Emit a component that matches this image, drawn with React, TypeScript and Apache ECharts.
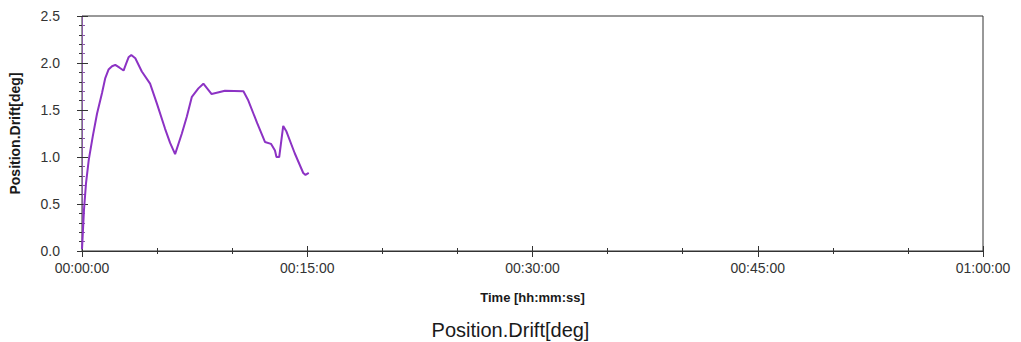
import React, { useEffect, useRef } from "react";
import * as echarts from "echarts";

// time in seconds from start
const timeSec: number[] = [
  0, 2, 8, 16, 27, 43, 60, 80, 93, 106, 120, 133, 150, 166, 176, 186, 197, 213, 239, 272,
  299, 332, 352, 372, 399, 419, 439, 465, 485, 518, 571, 645, 663, 700, 731, 755, 771, 777,
  788, 804, 817, 850, 884, 893, 906,
];
const driftDeg: number[] = [
  0.02, 0.12, 0.44, 0.72, 0.97, 1.22, 1.46, 1.68, 1.84, 1.93, 1.965, 1.98, 1.95, 1.92,
  1.99, 2.06, 2.085, 2.05, 1.91, 1.78, 1.57, 1.3, 1.15, 1.03, 1.25, 1.43, 1.64, 1.73, 1.78,
  1.67, 1.705, 1.7, 1.61, 1.36, 1.16, 1.14, 1.07, 1.0, 1.0, 1.33, 1.27, 1.04, 0.83, 0.81,
  0.83,
];
const xMax = 3600;
const xInterval = 900;
const yMax = 2.5;
const yInterval = 0.5;
const titleText = "Position.Drift[deg]";
const xName = "Time [hh:mm:ss]";
const yName = "Position.Drift[deg]";

const pad = (n: number) => String(n).padStart(2, "0");
const fmtTime = (s: number) =>
  `${pad(Math.floor(s / 3600))}:${pad(Math.floor((s % 3600) / 60))}:${pad(Math.floor(s % 60))}`;

export default function App() {
  const ref = useRef<HTMLDivElement>(null);
  useEffect(() => {
    if (!ref.current) return;
    const chart = echarts.init(ref.current, null, { renderer: "svg" });
    const purple = "#8c32c4";
    const axisPurple = "#8a5aa8";
    const baseX = {
      type: "value" as const,
      min: 0,
      max: xMax,
      interval: xInterval,
      splitLine: { show: false },
    };
    const baseY = {
      type: "value" as const,
      min: 0,
      max: yMax,
      interval: yInterval,
      splitLine: { show: false },
    };
    chart.setOption({
      animation: false,
      backgroundColor: "#fff",
      title: {
        text: titleText,
        left: "center",
        top: 315,
        textStyle: {
          fontFamily: "Liberation Sans, Arial, sans-serif",
          fontSize: 20,
          fontWeight: "normal",
          color: "#1a1a1a",
        },
      },
      grid: {
        left: 80,
        right: 38,
        top: 16,
        bottom: 91,
        show: true,
        borderColor: "#333",
        borderWidth: 1,
        backgroundColor: "#fff",
      },
      xAxis: [
        {
          ...baseX,
          position: "bottom",
          name: xName,
          nameLocation: "middle",
          nameGap: 40,
          nameTextStyle: {
            fontFamily: "Liberation Sans, Arial, sans-serif",
            fontSize: 13,
            fontWeight: "bold",
            color: "#1a1a1a",
          },
          axisLine: { show: true, lineStyle: { color: "#333", width: 1 } },
          axisTick: { show: true, length: 6, lineStyle: { color: "#333" } },
          minorTick: { show: true, splitNumber: 3, length: 3, lineStyle: { color: "#333" } },
          axisLabel: {
            formatter: (v: number) => fmtTime(v),
            fontFamily: "Liberation Sans, Arial, sans-serif",
            fontSize: 14,
            color: "#333",
            margin: 10,
          },
        },
        {
          ...baseX,
          position: "bottom",
          axisLine: { show: false },
          axisTick: { show: true, inside: true, length: 5, lineStyle: { color: "#333" } },
          minorTick: { show: true, splitNumber: 3, length: 3, lineStyle: { color: "#333" } },
          axisLabel: { show: false },
        },
        {
          ...baseX,
          position: "top",
          axisLine: { show: false },
          axisTick: { show: true, inside: true, length: 5, lineStyle: { color: "#333" } },
          minorTick: { show: false },
          axisLabel: { show: false },
        },
      ],
      yAxis: [
        {
          ...baseY,
          position: "left",
          offset: 10,
          name: yName,
          nameLocation: "middle",
          nameGap: 50,
          nameTextStyle: {
            fontFamily: "Liberation Sans, Arial, sans-serif",
            fontSize: 14,
            fontWeight: "bold",
            color: "#1a1a1a",
          },
          axisLine: { show: true, lineStyle: { color: axisPurple, width: 1 } },
          axisTick: { show: true, length: 5, lineStyle: { color: "#333" } },
          minorTick: { show: true, splitNumber: 5, length: 3, lineStyle: { color: axisPurple } },
          axisLabel: {
            formatter: (v: number) => v.toFixed(1),
            fontFamily: "Liberation Sans, Arial, sans-serif",
            fontSize: 14,
            color: "#333",
            margin: 12,
          },
        },
        {
          ...baseY,
          position: "left",
          offset: 10,
          axisLine: { show: false },
          axisTick: { show: true, inside: true, length: 6, lineStyle: { color: "#333" } },
          minorTick: { show: true, splitNumber: 5, length: 3, lineStyle: { color: axisPurple } },
          axisLabel: { show: false },
        },
        {
          ...baseY,
          position: "right",
          axisLine: { show: false },
          axisTick: { show: true, inside: true, length: 4, lineStyle: { color: "#333" } },
          minorTick: { show: true, splitNumber: 5, length: 3, lineStyle: { color: "#333" } },
          axisLabel: { show: false },
        },
      ],
      series: [
        {
          type: "line",
          xAxisIndex: 0,
          yAxisIndex: 0,
          data: timeSec.map((t, i) => [t, driftDeg[i]]),
          showSymbol: false,
          symbol: "none",
          lineStyle: { color: purple, width: 2 },
        },
      ],
    });
    return () => chart.dispose();
  }, []);
  return (
    <div
      ref={ref}
      style={{ position: "fixed", left: 0, top: 0, width: 1021, height: 342, background: "#fff" }}
    />
  );
}
